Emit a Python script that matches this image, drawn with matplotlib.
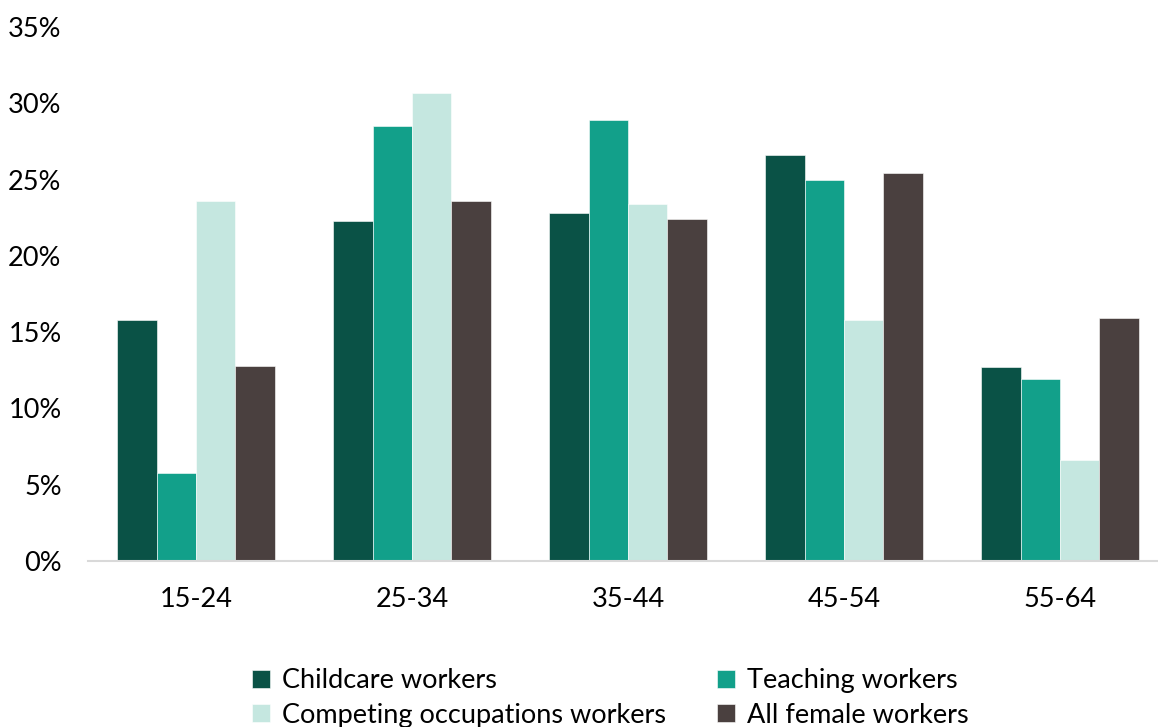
import matplotlib
matplotlib.use("Agg")
import matplotlib.pyplot as plt
import numpy as np
from matplotlib.ticker import FuncFormatter

categories = ["15-24", "25-34", "35-44", "45-54", "55-64"]
childcare = [15.8, 22.3, 22.8, 26.6, 12.7]
teaching = [5.8, 28.5, 28.9, 25.0, 11.9]
competing = [23.6, 30.7, 23.4, 15.8, 6.6]
all_female = [12.8, 23.6, 22.4, 25.4, 15.9]

series_names = ["Childcare workers", "Teaching workers",
                "Competing occupations workers", "All female workers"]
colors = ["#0A5246", "#12A08A", "#C5E7E0", "#4A403F"]

plt.rcParams['font.family'] = ['Lato', 'DejaVu Sans']

fig = plt.figure(figsize=(11.58, 7.27), dpi=100)
W, H = 1158, 727
left, right, top, bottom = 88, 1168, 27, 561
ax = fig.add_axes([left / W, 1 - bottom / H, (right - left) / W, (bottom - top) / H])

x = np.arange(len(categories))
bw = 0.182
data = [childcare, teaching, competing, all_female]
handles = []
for i, (vals, name, c) in enumerate(zip(data, series_names, colors)):
    b = ax.bar(x + (i - 1.5) * bw, vals, bw, color=c, label=name,
               edgecolor='white', linewidth=0.4)
    handles.append(b)

ax.set_xlim(-0.5, len(categories) - 0.5)
ax.set_ylim(0, 35)
ax.set_yticks(np.arange(0, 36, 5))
ax.yaxis.set_major_formatter(FuncFormatter(lambda v, p: f"{v:.0f}%"))
ax.set_xticks(x)
ax.set_xticklabels(categories)
ax.tick_params(axis='both', length=0, labelsize=19.5, colors='black')
ax.tick_params(axis='y', pad=19)
ax.tick_params(axis='x', pad=19)
for s in ['top', 'right', 'left']:
    ax.spines[s].set_visible(False)
ax.spines['bottom'].set_color('#D9D9D9')
ax.spines['bottom'].set_linewidth(1.5)

order = [0, 2, 1, 3]
fig.legend([handles[i] for i in order], [series_names[i] for i in order],
           ncol=2, loc='center', bbox_to_anchor=(0.527, 0.040),
           frameon=False, fontsize=19.5, handlelength=0.65, handleheight=0.65,
           handletextpad=0.45, columnspacing=1.9, labelspacing=0.35,
           borderpad=0)

fig.savefig("out.png", dpi=100)
